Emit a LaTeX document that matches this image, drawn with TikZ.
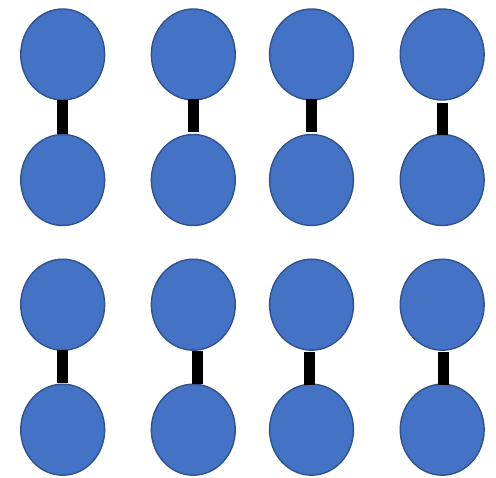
\documentclass[tikz,border=0pt]{standalone}
\usetikzlibrary{shapes.geometric}
\definecolor{ballfill}{HTML}{4472C4}
\definecolor{balledge}{HTML}{2F528F}
\begin{document}
\begin{tikzpicture}[x=1pt,y=-1pt,
  ball/.style={ellipse,draw=balledge,fill=ballfill,line width=1.4pt,inner sep=0pt,minimum width=83.9pt,minimum height=91pt},
  bond/.style={line width=10.7pt,line cap=butt,black}]
\useasboundingbox (0,0) rectangle (496,478);
% row 1 / 2
\node[ball] (a1) at (62.7,54.5) {};
\node[ball] (b1) at (62.7,180) {};
\node[ball] (a2) at (193.3,54.5) {};
\node[ball] (b2) at (193.3,180) {};
\node[ball] (a3) at (311.5,54.5) {};
\node[ball] (b3) at (311.5,180) {};
\node[ball] (a4) at (442.2,54.5) {};
\node[ball] (b4) at (442.2,180) {};
% row 3 / 4
\node[ball] (c1) at (62.7,304.7) {};
\node[ball] (d1) at (62.7,429.7) {};
\node[ball] (c2) at (193.3,304.7) {};
\node[ball] (d2) at (193.3,429.7) {};
\node[ball] (c3) at (311.5,304.7) {};
\node[ball] (d3) at (311.5,429.7) {};
\node[ball] (c4) at (442.2,304.7) {};
\node[ball] (d4) at (442.2,429.7) {};
% bonds
\draw[bond] ([yshift=0.4pt]a1.south) -- ([yshift=0.1pt]b1.north);
\draw[bond] ([xshift=0.4pt,yshift=2.1pt]a2.south) -- ([xshift=0.4pt,yshift=2.1pt]b2.north);
\draw[bond] ([yshift=2.1pt]a3.south) -- ([yshift=2.1pt]b3.north);
\draw[bond] ([yshift=-1.9pt]a4.south) -- ([yshift=-1.6pt]b4.north);
\draw[bond] ([yshift=1.3pt]c1.south) -- ([yshift=0.5pt]d1.north);
\draw[bond] ([xshift=4.2pt,yshift=-0.1pt]c2.south) -- ([xshift=4.2pt,yshift=-0.5pt]d2.north);
\draw[bond] ([xshift=-2pt,yshift=-1.1pt]c3.south) -- ([xshift=-2pt,yshift=-1.9pt]d3.north);
\draw[bond] ([xshift=1.5pt,yshift=-1.1pt]c4.south) -- ([xshift=1.5pt,yshift=-1.9pt]d4.north);
\end{tikzpicture}
\end{document}
